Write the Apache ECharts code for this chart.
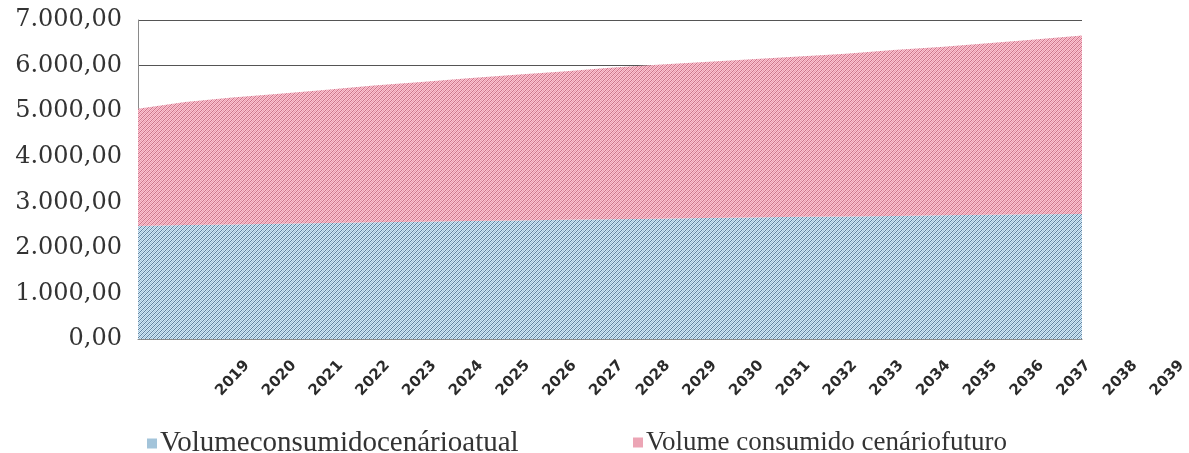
<!DOCTYPE html>
<html>
<head>
<meta charset="utf-8">
<script src="https://cdn.jsdelivr.net/npm/echarts@6/dist/echarts.min.js"></script>
<style>
html,body{margin:0;padding:0;background:#fff;}
#chart{width:1189px;height:453px;}
</style>
</head>
<body>
<div id="chart"></div>
<script>
var years = ['2019','2020','2021','2022','2023','2024','2025','2026','2027','2028','2029','2030','2031','2032','2033','2034','2035','2036','2037','2038','2039'];
var volumeAtual = [2480,2500,2515,2530,2545,2560,2575,2590,2600,2615,2630,2640,2655,2665,2680,2690,2700,2715,2725,2735,2745];
var volumeFuturo = [2570,2700,2785,2850,2925,3000,3065,3130,3200,3255,3320,3380,3425,3475,3520,3570,3640,3695,3765,3835,3915];
var yTicks = [0,1000,2000,3000,4000,5000,6000,7000];
var seriesNames = ['Volumeconsumidocenárioatual','Volume consumido cenáriofuturo'];

function makePattern(bg, fg, fg2) {
  var c = document.createElement('canvas');
  c.width = 4; c.height = 4;
  var ctx = c.getContext('2d');
  ctx.fillStyle = bg; ctx.fillRect(0,0,4,4);
  ctx.fillStyle = fg;
  for (var i = 0; i < 4; i++) { ctx.fillRect(3 - i, i, 1, 1); }
  if (fg2) {
    ctx.fillStyle = fg2;
    for (var j = 0; j < 4; j++) { ctx.fillRect((5 - j) % 4, j, 1, 1); }
  }
  return c;
}

function fmt(v) {
  var s = String(Math.round(v));
  var out = '';
  while (s.length > 3) { out = '.' + s.slice(-3) + out; s = s.slice(0, -3); }
  return s + out + ',00';
}

var chart = echarts.init(document.getElementById('chart'));
var blueFill = {image: makePattern('#cfe9f8', '#62809c', '#a9c4d8'), repeat: 'repeat'};
var pinkFill = {image: makePattern('#fac4d0', '#cc7489', '#eb9eb1'), repeat: 'repeat'};

var legendText = {fontFamily: 'Liberation Serif', color: '#333'};

chart.setOption({
  animation: false,
  backgroundColor: '#fff',
  grid: [
    {left: 138, width: 944, top: 20, height: 319},
    {left: 247, width: 944, top: 20, height: 319}
  ],
  xAxis: [
    {type: 'category', gridIndex: 0, data: years, boundaryGap: false,
     axisLine: {show: true, lineStyle: {color: '#8a8a8a', width: 1}},
     axisTick: {show: false}, axisLabel: {show: false}, splitLine: {show: false}},
    {type: 'category', gridIndex: 1, data: years, boundaryGap: false,
     axisLine: {show: false}, axisTick: {show: false}, splitLine: {show: false},
     axisLabel: {show: true, interval: 0, rotate: 47, margin: 24,
       fontFamily: 'DejaVu Sans', fontWeight: 'bold', fontSize: 15, color: '#2a2a2a'}}
  ],
  yAxis: [
    {type: 'value', gridIndex: 0, min: yTicks[0], max: yTicks[yTicks.length-1], interval: 1000,
     axisLine: {show: true, lineStyle: {color: '#8a8a8a', width: 1}},
     axisTick: {show: false},
     splitLine: {show: true, lineStyle: {color: '#555', width: 1}},
     axisLabel: {margin: 16, fontFamily: 'DejaVu Serif', fontSize: 24, color: '#333',
       formatter: function(v){ return fmt(v); }}},
    {type: 'value', gridIndex: 1, min: 0, max: 7000, show: false}
  ],
  legend: [
    {left: 142, top: 424, itemWidth: 10, itemHeight: 10, icon: 'rect',
     data: [seriesNames[0]],
     textStyle: Object.assign({fontSize: 29, padding: [0,0,0,-2]}, legendText)},
    {left: 628, top: 424, itemWidth: 10, itemHeight: 10, icon: 'rect',
     data: [seriesNames[1]],
     textStyle: Object.assign({fontSize: 27, padding: [0,0,0,-2]}, legendText)}
  ],
  series: [
    {name: seriesNames[0], type: 'line', stack: 'v', data: volumeAtual,
     xAxisIndex: 0, yAxisIndex: 0, showSymbol: false, symbol: 'none',
     lineStyle: {width: 0}, itemStyle: {color: '#a3c4da'},
     areaStyle: {color: blueFill, opacity: 1}},
    {name: seriesNames[1], type: 'line', stack: 'v', data: volumeFuturo,
     xAxisIndex: 0, yAxisIndex: 0, showSymbol: false, symbol: 'none',
     lineStyle: {width: 0}, itemStyle: {color: '#eca5b5'},
     areaStyle: {color: pinkFill, opacity: 1}}
  ]
});
</script>
</body>
</html>
